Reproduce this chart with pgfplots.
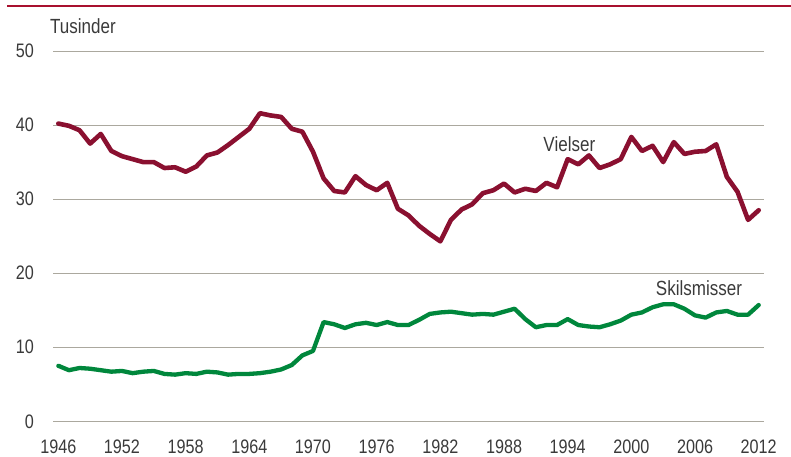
\documentclass[border=0pt]{standalone}
\usepackage{fontspec}
\setmainfont{Liberation Sans}[FakeStretch=0.83]
\usepackage{pgfplots}
\pgfplotsset{compat=1.18}

\definecolor{vielred}{HTML}{8A1030}
\definecolor{skilgreen}{HTML}{00873C}
\definecolor{topred}{HTML}{A8102E}
\definecolor{gridgray}{HTML}{ABA89E}
\definecolor{txtgray}{HTML}{3A3A3A}

\begin{document}
\begin{tikzpicture}
  \useasboundingbox (0,0) rectangle (791pt,456pt);
  \draw[topred, line width=1.4pt] (7pt,450pt) -- (791pt,450pt);
  \node[anchor=base west, inner sep=0pt, text=txtgray, font=\fontsize{20.5}{23}\selectfont]
    at (50pt,422.7pt) {Tusinder};
  \begin{axis}[
      at={(53pt,34.7pt)}, anchor=south west,
      scale only axis, width=711pt, height=370.3pt,
      xmin=1945.5, xmax=2012.5, ymin=0, ymax=50,
      axis line style={draw=none},
      major tick length=0pt,
      xtick={1946,1952,...,2012},
      ytick={0,10,...,50},
      ymajorgrids,
      grid style={gridgray, line width=1pt},
      /pgf/number format/assume math mode=true,
      /pgf/number format/set thousands separator={},
      tick label style={text=txtgray, font=\fontsize{19.5}{21}\selectfont, inner sep=0pt},
      xticklabel style={anchor=north, yshift=-18pt},
      yticklabel style={anchor=east, xshift=-19pt},
      clip=false,
    ]
    % Vielser
    \addplot[vielred, line width=4.6pt, line join=round, line cap=round] coordinates {
      (1946,40.2) (1947,39.9) (1948,39.3) (1949,37.5) (1950,38.8) (1951,36.5)
      (1952,35.8) (1953,35.4) (1954,35.0) (1955,35.0) (1956,34.2) (1957,34.3)
      (1958,33.7) (1959,34.4) (1960,35.9) (1961,36.3) (1962,37.3) (1963,38.4)
      (1964,39.5) (1965,41.6) (1966,41.3) (1967,41.1) (1968,39.5) (1969,39.1)
      (1970,36.4) (1971,32.8) (1972,31.1) (1973,30.9) (1974,33.1) (1975,31.9)
      (1976,31.2) (1977,32.2) (1978,28.7) (1979,27.8) (1980,26.4) (1981,25.3)
      (1982,24.3) (1983,27.2) (1984,28.6) (1985,29.3) (1986,30.8) (1987,31.2)
      (1988,32.1) (1989,30.9) (1990,31.4) (1991,31.1) (1992,32.2) (1993,31.6)
      (1994,35.4) (1995,34.7) (1996,35.9) (1997,34.2) (1998,34.7) (1999,35.4)
      (2000,38.4) (2001,36.5) (2002,37.2) (2003,35.0) (2004,37.7) (2005,36.1)
      (2006,36.4) (2007,36.5) (2008,37.4) (2009,33.0) (2010,31.0) (2011,27.2)
      (2012,28.5)
    };
    % Skilsmisser
    \addplot[skilgreen, line width=4.3pt, line join=round, line cap=round] coordinates {
      (1946,7.5) (1947,6.9) (1948,7.2) (1949,7.1) (1950,6.9) (1951,6.7)
      (1952,6.8) (1953,6.5) (1954,6.7) (1955,6.8) (1956,6.4) (1957,6.3)
      (1958,6.5) (1959,6.4) (1960,6.7) (1961,6.6) (1962,6.3) (1963,6.4)
      (1964,6.4) (1965,6.5) (1966,6.7) (1967,7.0) (1968,7.6) (1969,8.9)
      (1970,9.5) (1971,13.4) (1972,13.1) (1973,12.6) (1974,13.1) (1975,13.3)
      (1976,13.0) (1977,13.4) (1978,13.0) (1979,13.0) (1980,13.7) (1981,14.5)
      (1982,14.7) (1983,14.8) (1984,14.6) (1985,14.4) (1986,14.5) (1987,14.4)
      (1988,14.8) (1989,15.2) (1990,13.8) (1991,12.7) (1992,13.0) (1993,13.0)
      (1994,13.8) (1995,13.0) (1996,12.8) (1997,12.7) (1998,13.1) (1999,13.6)
      (2000,14.4) (2001,14.7) (2002,15.4) (2003,15.8) (2004,15.8) (2005,15.2)
      (2006,14.3) (2007,14.0) (2008,14.7) (2009,14.9) (2010,14.4) (2011,14.4)
      (2012,15.7)
    };
    \node[anchor=base west, inner sep=0pt, text=txtgray, font=\fontsize{20.5}{23}\selectfont]
      at (axis cs:1991.7,36.4) {Vielser};
    \node[anchor=base west, inner sep=0pt, text=txtgray, font=\fontsize{20.5}{23}\selectfont]
      at (axis cs:2002.3,17.05) {Skilsmisser};
  \end{axis}
\end{tikzpicture}
\end{document}
